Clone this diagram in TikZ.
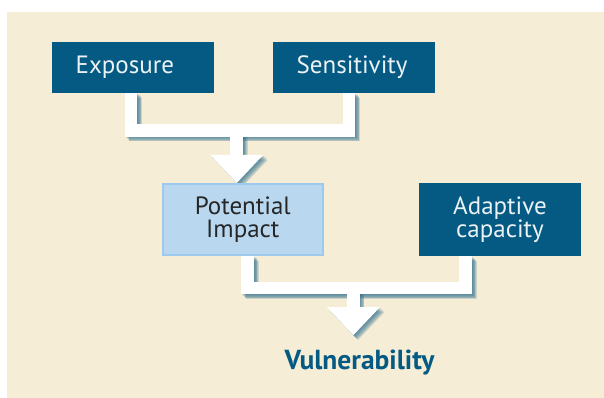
\documentclass[tikz,border=0pt]{standalone}
\usepackage{fontspec}
\setmainfont{PT Sans}
\usetikzlibrary{arrows.meta, backgrounds}

\definecolor{paper}{HTML}{F6EDD7}
\definecolor{deepblue}{HTML}{055A83}
\definecolor{paleblue}{HTML}{B9D8F0}
\definecolor{paleedge}{HTML}{9DC9EC}
\definecolor{haze}{HTML}{2F6F8F}

\tikzset{
  label font/.style={font=\fontsize{25}{23.5}\selectfont},
  driver/.style={label font, fill=deepblue, text=white!92!deepblue,
    minimum height=50.7pt, text width=115.3pt, inner xsep=23.2pt, inner ysep=0pt,
    align=left, text height=18pt, text depth=5pt},
  factor/.style={label font, minimum width=160pt, minimum height=71pt, align=center},
  link/.style={draw=white, line width=12.7pt, line join=miter},
  link shadow/.style={draw=haze, draw opacity=.2, fill opacity=.2, line width=12.7pt, line join=miter},
  head/.style={-{Triangle[width=53pt, length=28pt, line width=0pt]}}
}

\begin{document}
\begin{tikzpicture}[x=1pt, y=-1pt]
\useasboundingbox (0,0) rectangle (604,398);

% Define nodes
\node[driver] (expo) at (133.3,67.4) {Exposure};
\node[driver] (sens) at (354.3,67.4) {Sensitivity};
\node[factor, fill=paleblue, draw=paleedge, line width=2pt, text=black!85] (pot) at (242.8,219.5) {Potential\\Impact};
\node[factor, fill=deepblue, text=white!92!deepblue, minimum width=162.3pt, minimum height=73pt] (adap) at (500,219.5) {Adaptive\\capacity};
\node[anchor=base, font=\fontsize{27.5}{30}\selectfont\bfseries, text=deepblue] (vul) at (359.5,369.3) {Vulnerability};

\coordinate (j1) at (236.7,130.3);
\coordinate (j2) at (353.3,288);

\begin{scope}[on background layer]
\fill[paper] (7,12) rectangle (604,398);
% soft shadow
\foreach \s in {1,...,6} {
  \begin{scope}[transform canvas={xshift=0.8*\s pt, yshift=-0.8*\s pt}]
  \draw[link shadow] ([xshift=-2.3pt]expo.south) |- (j1) -| ([xshift=-5.3pt]sens.south);
  \draw[link shadow, head] (j1) -- (j1 |- pot.north);
  \draw[link shadow] ([xshift=5pt]pot.south) |- (j2) -| ([xshift=-34.2pt]adap.south);
  \draw[link shadow, head, shorten >=11pt] (j2) -- (j2 |- vul.north);
  \end{scope}
}
% white connectors
\draw[link] ([xshift=-2.3pt]expo.south) |- (j1) -| ([xshift=-5.3pt]sens.south);
\draw[link, head] (j1) -- (j1 |- pot.north);
\draw[link] ([xshift=5pt]pot.south) |- (j2) -| ([xshift=-34.2pt]adap.south);
\draw[link, head, shorten >=11pt] (j2) -- (j2 |- vul.north);
\end{scope}

\end{tikzpicture}
\end{document}
